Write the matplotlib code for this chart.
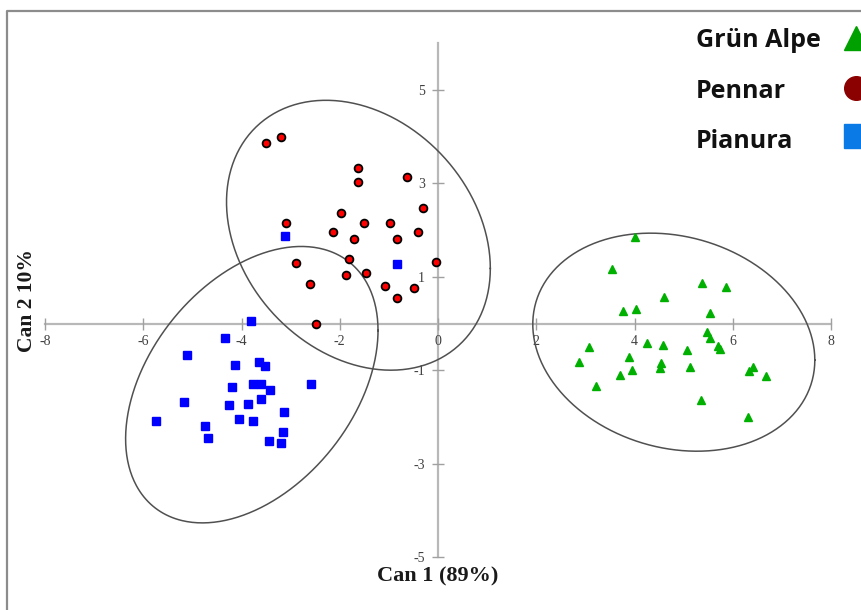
import numpy as np
import matplotlib
matplotlib.use('Agg')
import matplotlib.pyplot as plt
from matplotlib.lines import Line2D

# ---------------- data ----------------
groups = ['Grün Alpe', 'Pennar', 'Pianura']

gruen_x = [4.00, 3.54, 5.38, 5.86, 4.60, 3.77, 4.03, 5.53, 5.48, 5.54, 4.25, 4.58, 3.08, 5.07, 5.70,
           5.74, 2.87, 3.88, 4.53, 4.51, 5.12, 3.94, 6.42, 6.33, 3.70, 6.68, 3.21, 5.35, 6.31]
gruen_y = [1.85, 1.17, 0.86, 0.79, 0.57, 0.27, 0.31, 0.22, -0.18, -0.32, -0.42, -0.46, -0.50, -0.57, -0.48,
           -0.55, -0.82, -0.72, -0.84, -0.95, -0.93, -0.99, -0.93, -1.02, -1.11, -1.13, -1.33, -1.64, -2.00]

pennar_x = [-3.50, -3.20, -1.62, -1.62, -0.63, -0.31, -1.98, -3.10, -1.51, -0.98, -2.14, -1.70, -0.84,
            -0.41, -1.82, -2.89, -0.04, -1.87, -1.47, -2.61, -1.08, -0.49, -0.84, -2.49]
pennar_y = [3.87, 4.00, 3.34, 3.03, 3.13, 2.47, 2.37, 2.16, 2.16, 2.16, 1.95, 1.82, 1.82,
            1.95, 1.38, 1.30, 1.32, 1.03, 1.09, 0.85, 0.81, 0.77, 0.54, -0.02]

pianura_x = [-3.12, -0.83, -3.80, -4.33, -5.10, -4.13, -3.65, -3.53, -3.76, -3.61, -2.59, -4.20, -3.43,
             -5.17, -4.26, -3.86, -3.61, -3.14, -5.74, -4.06, -3.76, -4.75, -4.69, -3.16, -3.45, -3.20]
pianura_y = [1.87, 1.28, 0.06, -0.30, -0.67, -0.88, -0.82, -0.90, -1.29, -1.29, -1.29, -1.36, -1.42,
             -1.68, -1.75, -1.73, -1.62, -1.89, -2.09, -2.05, -2.09, -2.19, -2.45, -2.33, -2.51, -2.55]

# group ellipses: centre and shape matrix (data units)
ellipse_centres = [(4.80, -0.40), (-1.62, 1.89), (-3.79, -1.31)]
ellipse_shapes = [[[8.24, -1.10], [-1.10, 5.45]],
                  [[7.21, -1.91], [-1.91, 8.35]],
                  [[6.60, 2.98], [2.98, 8.76]]]

x_ticks = [-8, -6, -4, -2, 0, 2, 4, 6, 8]
y_ticks = [-5, -3, -1, 1, 3, 5]
x_title = 'Can 1 (89%)'
y_title = 'Can 2 10%'

# ---------------- figure ----------------
W, H = 861, 610
fig = plt.figure(figsize=(W / 100, H / 100), dpi=100)
fig.patch.set_facecolor('white')

def fx(px):
    return px / W

def fy(py):
    return 1 - py / H

ylo, yhi = -5.3, 6.2
y0pix, ypu = 323.5, 46.7
ax = fig.add_axes([fx(45), fy(y0pix - ylo * ypu), fx(831) - fx(45),
                   fy(y0pix - yhi * ypu) - fy(y0pix - ylo * ypu)])
ax.set_xlim(-8, 8)
ax.set_ylim(ylo, yhi)
ax.set_facecolor('none')

axis_col = '#b8b8b8'
for s in ['top', 'right']:
    ax.spines[s].set_visible(False)
ax.spines['left'].set_position(('data', 0))
ax.spines['bottom'].set_position(('data', 0))
ax.spines['left'].set_bounds(-5, 6)
ax.spines['bottom'].set_bounds(-8, 8)
for s in ['left', 'bottom']:
    ax.spines[s].set_color(axis_col)
    ax.spines[s].set_linewidth(1.6)
    ax.spines[s].set_zorder(1)

ax.set_xticks(x_ticks)
ax.set_yticks(y_ticks)
ax.set_xticklabels([str(t) for t in x_ticks])
ax.set_yticklabels([str(t) for t in y_ticks])
ax.tick_params(direction='inout', length=9, width=1.0, color='#a0a0a0',
               labelsize=10, labelcolor='#404040')
ax.tick_params(axis='x', pad=4)
ax.tick_params(axis='y', pad=5)
for lab in ax.get_xticklabels() + ax.get_yticklabels():
    lab.set_family('Liberation Serif')

# ellipses
t = np.linspace(0, 2 * np.pi, 400)
circ = np.vstack([np.cos(t), np.sin(t)])
for (cx, cy), S in zip(ellipse_centres, ellipse_shapes):
    L = np.linalg.cholesky(np.array(S))
    pts = L @ circ
    ax.plot(cx + pts[0], cy + pts[1], color='#505050', lw=1.1, zorder=2, clip_on=False)

# points
ax.plot(gruen_x, gruen_y, linestyle='none', marker='^', ms=6.3, mfc='#00b000', mec='#00b000',
        zorder=3, clip_on=False)
ax.plot(pennar_x, pennar_y, linestyle='none', marker='o', ms=5.6, mfc='#ff0000', mec='black',
        mew=1.3, zorder=3, clip_on=False)
ax.plot(pianura_x, pianura_y, linestyle='none', marker='s', ms=5.6, mfc='#0000ff', mec='#0000ff',
        zorder=3, clip_on=False)

# axis titles
fig.text(fx(438), fy(576), x_title, family='Liberation Serif', weight='bold', fontsize=16,
         ha='center', va='center', color='#1a1a1a')
fig.text(fx(27), fy(301), y_title, family='Liberation Serif', weight='bold', fontsize=15.5,
         ha='center', va='center', rotation=90, color='#1a1a1a')

# legend (labels left, markers right, cut by the image edge)
leg_labels_y = [47, 98, 148]
leg_markers_y = [38, 88, 136]
leg_markers = ['^', 'o', 's']
leg_colors = ['#00a000', '#8b0000', '#0a7be6']
for lab, ty, my, mk, col in zip(groups, leg_labels_y, leg_markers_y, leg_markers, leg_colors):
    fig.text(fx(696), fy(ty), lab, family='Open Sans', weight='bold', fontsize=18,
             ha='left', va='baseline', color='#111111')
    fig.add_artist(Line2D([fx(856)], [fy(my)], marker=mk, ms=17, mfc=col, mec=col,
                          linestyle='none', transform=fig.transFigure))

# outer frame
fig.add_artist(Line2D([fx(7), fx(7), 1.0], [0.0, fy(11), fy(11)], transform=fig.transFigure,
                      color='#8c8c8c', lw=1.6))

fig.savefig('out.png', dpi=100, facecolor='white')
